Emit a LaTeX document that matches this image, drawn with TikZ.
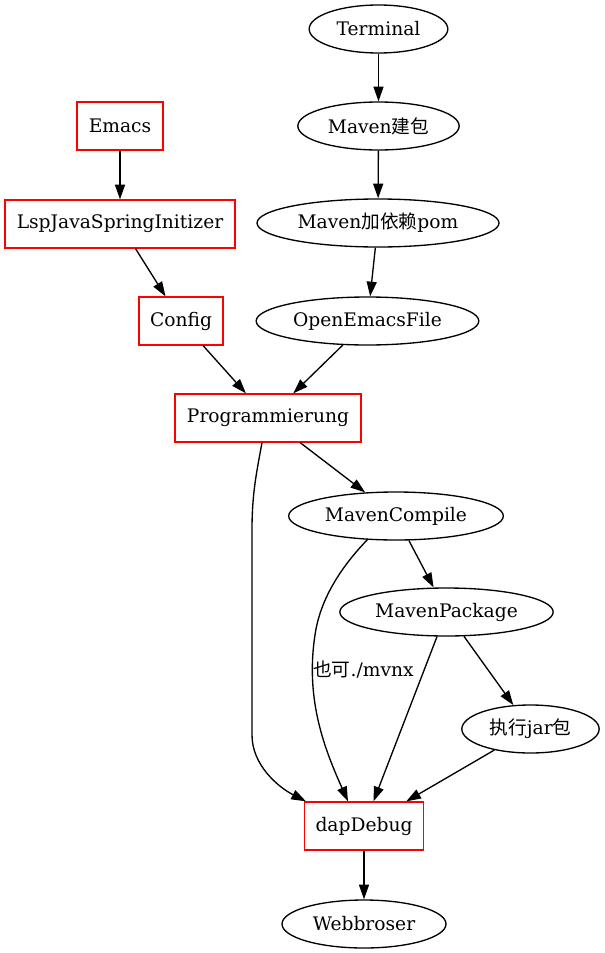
\documentclass[tikz,border=0pt]{standalone}
\usepackage{fontspec}
\setmainfont{DejaVu Serif}
\newfontfamily\cjk{Noto Sans CJK SC}
\usetikzlibrary{shapes.geometric,arrows.meta,calc}
\begin{document}
\begin{tikzpicture}[x=0.75pt,y=-0.75pt,
  every node/.style={font=\fontsize{14}{16}\selectfont},
  ell/.style={draw,ellipse,line width=1pt,minimum height=36pt,inner sep=0pt},
  rbox/.style={draw=red,rectangle,line width=1pt,minimum height=36pt,inner sep=0pt},
  conn/.style={draw,line width=1pt,-{Triangle[length=11pt,width=7.5pt]}}]
\useasboundingbox (0,0) rectangle (604,953);
% ellipses
\node[ell,minimum width=104pt] (Terminal) at (378.5,29) {Terminal};
\node[ell,minimum width=121pt] (Build) at (378.5,126) {Maven{\cjk 建包}};
\node[ell,minimum width=181.5pt] (Pom) at (378,223) {Maven{\cjk 加依赖}pom};
\node[ell,minimum width=167pt] (Open) at (367.5,321) {OpenEmacsFile};
\node[ell,minimum width=161pt] (Compile) at (396,516) {MavenCompile};
\node[ell,minimum width=160pt] (Package) at (446.5,612) {MavenPackage};
\node[ell,minimum width=103pt] (Jar) at (530.5,729) {{\cjk 执行}jar{\cjk 包}};
\node[ell,minimum width=123pt] (Web) at (364,924) {Webbroser};
% boxes
\node[rbox,minimum width=64.5pt] (Emacs) at (120,126) {Emacs};
\node[rbox,minimum width=172.5pt] (Lsp) at (120,224) {LspJavaSpringInitizer};
\node[rbox,minimum width=63pt] (Config) at (181,321) {Config};
\node[rbox,minimum width=139.5pt] (Prog) at (268,418) {Programmierung};
\node[rbox,minimum width=89pt] (Dap) at (364,826) {dapDebug};
% edges
\draw[conn] (Terminal) -- (Build);
\draw[conn] (Build) -- (Pom);
\draw[conn] (Pom) -- (Open);
\draw[conn] (Emacs) -- (Lsp);
\draw[conn] (Lsp) -- (Config);
\draw[conn] (Config) -- (Prog);
\draw[conn] (Open) -- (Prog);
\draw[conn] (Prog) -- (Compile);
\draw[conn] ($(Prog.south)+(-6,0)$) .. controls (256,475) and (252,495) .. (252,530)
  -- (252,735) .. controls (252,765) and (278,787) .. ($(Dap.north west)+(2,0)$);
\draw[conn] (Compile) -- (Package);
\draw[conn] ($(Compile.center)+(-28,23)$) .. controls (340,568) and (320,600) .. (315,635)
  .. controls (305,700) and (325,750) .. ($(Dap.north)+(-16,0)$);
\node[anchor=west,inner sep=0pt] (Lbl) at (313,670) {{\cjk 也可}./mvnx};
\draw[conn] (Package) -- (Dap);
\draw[conn] (Package) -- (Jar);
\draw[conn] (Jar) -- (Dap);
\draw[conn] (Dap) -- (Web);
\end{tikzpicture}
\end{document}
